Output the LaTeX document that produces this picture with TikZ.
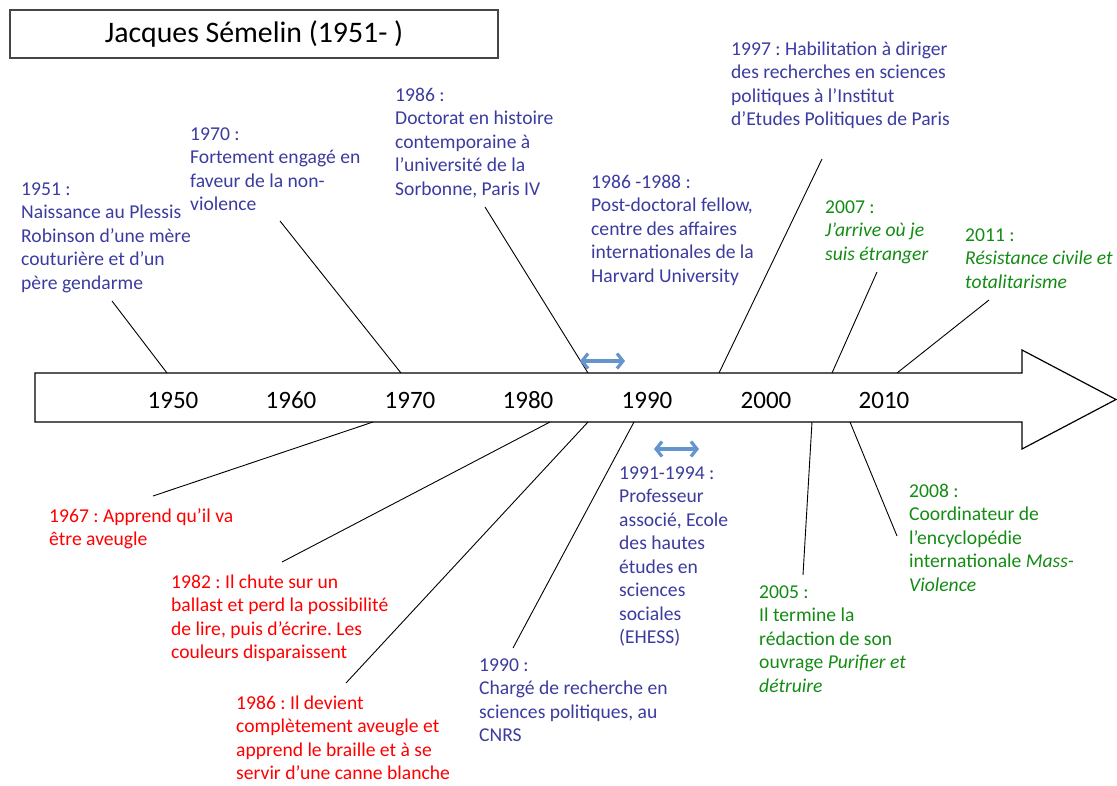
\documentclass[tikz,border=0pt]{standalone}
\usepackage{fontspec}
\setmainfont{Carlito}
\frenchspacing
\usetikzlibrary{arrows.meta}
\definecolor{tblue}{RGB}{60,60,160}
\definecolor{tred}{RGB}{255,0,0}
\definecolor{tgreen}{RGB}{20,140,20}
\definecolor{tarrow}{RGB}{100,150,205}
\definecolor{tframe}{RGB}{70,70,70}
\begin{document}
\begin{tikzpicture}[x=1pt,y=-1pt,
  evt/.style={anchor=north west, inner sep=0pt, align=left, font=\fontsize{19.6}{23.5}\selectfont},
  blueevt/.style={evt, text=tblue},
  redevt/.style={evt, text=tred},
  greenevt/.style={evt, text=tgreen},
  yearlbl/.style={anchor=base, inner sep=0pt, font=\fontsize{25}{30}\selectfont},
  conn/.style={black, line width=0.9pt},
  axisbody/.style={draw=black, fill=white, line width=1.2pt, line join=miter},
  darr/.style={tarrow, line width=3.2pt, {Straight Barb[length=6pt,width=15pt]}-{Straight Barb[length=6pt,width=15pt]}}
]
\useasboundingbox (0,0) rectangle (1117,785);
\fill[white] (0,0) rectangle (1117,785);

% title
\node[draw=tframe, line width=1.2pt, minimum width=488pt, minimum height=48pt, inner sep=0pt,
      font=\fontsize{29.8}{34}\selectfont] (title) at (254,34) {Jacques Sémelin (1951- )};

% axis arrow
\draw[axisbody] (35,373) -- (1022,373) -- (1022,350) -- (1116,399.5) -- (1022,449) -- (1022,422) -- (35,422) -- cycle;

% year labels
\node[yearlbl] (y1950) at (173,408) {1950};
\node[yearlbl] (y1960) at (291,408) {1960};
\node[yearlbl] (y1970) at (410,408) {1970};
\node[yearlbl] (y1980) at (528,408) {1980};
\node[yearlbl] (y1990) at (647,408) {1990};
\node[yearlbl] (y2000) at (766,408) {2000};
\node[yearlbl] (y2010) at (884,408) {2010};

% upper events
\node[blueevt] (e1951) at (21,178.5) {\strut 1951 :\\Naissance au Plessis\\Robinson d’une mère\\couturière et d’un\\père gendarme};
\node[blueevt] (e1970) at (190,123.5) {\strut 1970 :\\Fortement engagé en\\faveur de la non-\\violence};
\node[blueevt] (e1986a) at (395,84.5) {\strut 1986 :\\Doctorat en histoire\\contemporaine à\\l’université de la\\Sorbonne, Paris IV};
\node[blueevt] (e1997) at (731,38.5) {\strut 1997 : Habilitation à diriger\\des recherches en sciences\\politiques à l’Institut\\d’Etudes Politiques de Paris};
\node[blueevt] (e1986b) at (591,171.5) {\strut 1986 -1988 :\\Post-doctoral fellow,\\centre des affaires\\internationales de la\\Harvard University};
\node[greenevt] (e2007) at (825,196.5) {\strut 2007 :\\\textit{J’arrive où je}\\\textit{suis étranger}};
\node[greenevt] (e2011) at (965,224.5) {\strut 2011 :\\\textit{Résistance civile et}\\\textit{totalitarisme}};

% lower events
\node[redevt] (e1967) at (49,505.5) {\strut 1967 : Apprend qu’il va\\être aveugle};
\node[redevt] (e1982) at (171,571.5) {\strut 1982 : Il chute sur un\\ballast et perd la possibilité\\de lire, puis d’écrire. Les\\couleurs disparaissent};
\node[redevt] (e1986c) at (236,692.5) {\strut 1986 : Il devient\\complètement aveugle et\\apprend le braille et à se\\servir d’une canne blanche};
\node[blueevt] (e1990) at (479,654.5) {\strut 1990 :\\Chargé de recherche en\\sciences politiques, au\\CNRS};
\node[blueevt] (e1991) at (619,462.5) {\strut 1991-1994 :\\Professeur\\associé, Ecole\\des hautes\\études en\\sciences\\sociales\\(EHESS)};
\node[greenevt] (e2005) at (759,581.5) {\strut 2005 :\\Il termine la\\rédaction de son\\ouvrage \textit{Purifier et}\\\textit{détruire}};
\node[greenevt] (e2008) at (909,480.5) {\strut 2008 :\\Coordinateur de\\l’encyclopédie\\internationale \textit{Mass-}\\\textit{Violence}};

% connector endpoints
\coordinate (t1951) at (112,301);   \coordinate (a1951) at (167,373);
\coordinate (t1970) at (280,221);   \coordinate (a1970) at (401,373);
\coordinate (t1986a) at (485,207);  \coordinate (a1986a) at (588,373);
\coordinate (t1997) at (822,159);   \coordinate (a1997) at (719,373);
\coordinate (t2007) at (877,272);   \coordinate (a2007) at (832,373);
\coordinate (t2011) at (989,300);   \coordinate (a2011) at (897,373);

\coordinate (a1967) at (373,422);   \coordinate (t1967) at (153,496);
\coordinate (a1982) at (550,422);   \coordinate (t1982) at (282,562);
\coordinate (a1986c) at (588,422);  \coordinate (t1986c) at (346,683);
\coordinate (a1990) at (634,422);   \coordinate (t1990) at (513,648);
\coordinate (a2005) at (812,422);   \coordinate (t2005) at (803,575);
\coordinate (a2008) at (850,422);   \coordinate (t2008) at (897,536);

\foreach \e in {1951,1970,1986a,1997,2007,2011,1967,1982,1986c,1990,2005,2008}
  \draw[conn] (t\e) -- (a\e);

% period arrows
\coordinate (p1s) at (580,361); \coordinate (p1e) at (625,361);
\coordinate (p2s) at (654,449); \coordinate (p2e) at (699,449);
\draw[darr] (p1s) -- (p1e);
\draw[darr] (p2s) -- (p2e);
\end{tikzpicture}
\end{document}
